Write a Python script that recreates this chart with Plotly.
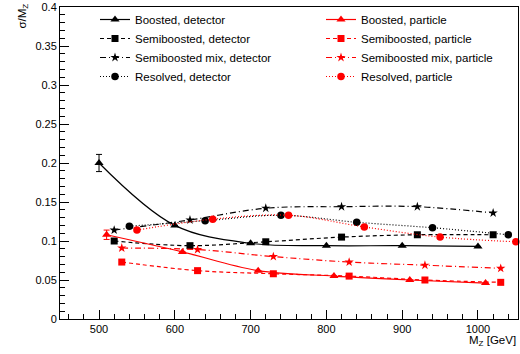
import plotly.graph_objects as go

# ---- data ----
mz_boosted = [500, 600, 700, 800, 900, 1000]
mz_semi = [520, 620, 720, 820, 920, 1020]
mz_resolved = [540, 640, 740, 840, 940, 1040]
mz_boosted_p = [510, 610, 710, 810, 910, 1010]
mz_semi_p = [530, 630, 730, 830, 930, 1030]
mz_resolved_p = [550, 650, 750, 850, 950, 1050]

boosted_det = [0.200, 0.120, 0.097, 0.094, 0.094, 0.093]
boosted_det_err = [0.011, 0.0, 0.0, 0.0, 0.0, 0.0]
semi_det = [0.100, 0.094, 0.099, 0.105, 0.108, 0.108]
semimix_det = [0.114, 0.127, 0.142, 0.144, 0.144, 0.136]
resolved_det = [0.119, 0.126, 0.133, 0.124, 0.117, 0.108]

boosted_part = [0.108, 0.086, 0.062, 0.055, 0.050, 0.046]
boosted_part_err = [0.006, 0.0, 0.0, 0.0, 0.0, 0.0]
semi_part = [0.073, 0.062, 0.058, 0.055, 0.050, 0.047]
semimix_part = [0.091, 0.089, 0.080, 0.073, 0.069, 0.065]
resolved_part = [0.114, 0.128, 0.133, 0.118, 0.105, 0.099]

names_det = ["Boosted, detector", "Semiboosted, detector",
             "Semiboosted mix, detector", "Resolved, detector"]
names_part = ["Boosted, particle", "Semiboosted, particle",
              "Semiboosted mix, particle", "Resolved, particle"]

# ---- layout geometry ----
W, H = 520, 354
ML, MR, MT, MB = 60, 2, 7, 35
PW = W - ML - MR
PH = H - MT - MB

BLACK = "#000000"
RED = "#ff0000"
DASH = "4px,3px"
DASHDOT = "6px,3px,1px,3px"
DOT = "1px,2px"

series = [
    (mz_boosted, boosted_det, boosted_det_err, names_det[0], BLACK, "solid", "triangle-up", 8, "legend"),
    (mz_semi, semi_det, None, names_det[1], BLACK, DASH, "square", 7, "legend"),
    (mz_semi, semimix_det, None, names_det[2], BLACK, DASHDOT, "star", 7, "legend"),
    (mz_resolved, resolved_det, None, names_det[3], BLACK, DOT, "circle", 7.5, "legend"),
    (mz_boosted_p, boosted_part, boosted_part_err, names_part[0], RED, "solid", "triangle-up", 8, "legend2"),
    (mz_semi_p, semi_part, None, names_part[1], RED, DASH, "square", 7, "legend2"),
    (mz_semi_p, semimix_part, None, names_part[2], RED, DASHDOT, "star", 7, "legend2"),
    (mz_resolved_p, resolved_part, None, names_part[3], RED, DOT, "circle", 7.5, "legend2"),
]

fig = go.Figure()
for xs, ys, err, name, col, dash, sym, size, leg in series:
    tr = dict(
        x=xs, y=ys, name=name, mode="lines+markers",
        line=dict(color=col, width=1.2, dash=dash, shape="spline", smoothing=1),
        marker=dict(color=col, symbol=sym, size=size, line=dict(width=0)),
        cliponaxis=False, legend=leg,
    )
    if err is not None:
        tr["error_y"] = dict(type="data", array=err, visible=True,
                             color=col, thickness=1, width=3)
    fig.add_trace(go.Scatter(**tr))

axis_common = dict(
    showgrid=False, zeroline=False, showline=True, linecolor=BLACK, linewidth=1,
    mirror=True, ticks="inside", tickcolor=BLACK, tickwidth=1, ticklen=9,
    tickfont=dict(family="Liberation Sans, Arial, sans-serif", size=11, color=BLACK),
)

fig.update_layout(
    width=W, height=H,
    margin=dict(l=ML, r=MR, t=MT, b=MB),
    paper_bgcolor="white", plot_bgcolor="white",
    font=dict(family="Liberation Sans, Arial, sans-serif", size=11.5, color=BLACK),
    xaxis=dict(range=[448.5, 1052.8], dtick=100, tick0=0,
               minor=dict(dtick=20, ticks="inside", ticklen=5, tickcolor=BLACK),
               **axis_common),
    yaxis=dict(range=[0, 0.4], dtick=0.05, tick0=0,
               minor=dict(dtick=0.01, ticks="inside", ticklen=5, tickcolor=BLACK),
               **axis_common),
    legend=dict(x=(95 - ML) / PW, y=(MT + PH - 5) / PH, xanchor="left", yanchor="top",
                bgcolor="rgba(0,0,0,0)", borderwidth=0,
                font=dict(size=11.5), tracegroupgap=0),
    legend2=dict(x=(321 - ML) / PW, y=(MT + PH - 5) / PH, xanchor="left", yanchor="top",
                 bgcolor="rgba(0,0,0,0)", borderwidth=0,
                 font=dict(size=11.5), tracegroupgap=0),
    annotations=[
        dict(text="σ/M<sub>Z</sub>", xref="paper", yref="paper",
             x=-38 / PW, y=1 + 5 / PH, xanchor="center", yanchor="top",
             textangle=-90, showarrow=False, font=dict(size=11.5)),
        dict(text="M<sub>Z</sub> [GeV]", xref="paper", yref="paper",
             x=1, y=-13 / PH, xanchor="right", yanchor="top",
             showarrow=False, font=dict(size=11.5)),
    ],
)

fig.write_html("out.html",
               config={"displayModeBar": False},
               post_script="document.body.style.margin='0';document.body.style.overflow='hidden';")
